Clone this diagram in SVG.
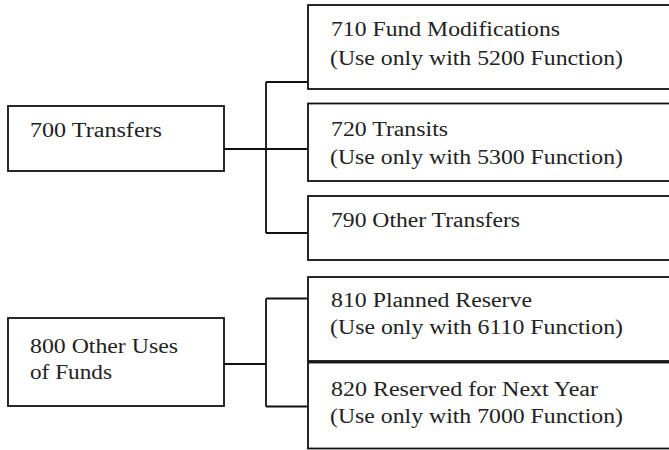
<svg xmlns="http://www.w3.org/2000/svg" width="669" height="450" viewBox="0 0 669 450">
<style>
.box{fill:#fff;stroke:#111;stroke-width:1.8}
.c{fill:none;stroke:#111;stroke-width:1.8}
text{font-family:"Liberation Serif",Tinos,"Noto Serif","DejaVu Serif",FreeSerif,Times,"Times New Roman",serif;font-size:20px;fill:#222}
</style>
<rect width="669" height="450" fill="#fff"/>
<g id="connectors">
<path class="c" d="M224,149 H308 M266,82 V233 M266,82 H308 M266,233 H308"/>
<path class="c" d="M224,364 H266 M266,298.5 V406.5 M266,298.5 H308 M266,406.5 H308"/>
</g>
<g id="n700">
<rect class="box" x="8" y="106" width="216" height="65"/>
<text x="30" y="137" textLength="132" lengthAdjust="spacingAndGlyphs">700 Transfers</text>
</g>
<g id="n710">
<rect class="box" x="308" y="5" width="400" height="84"/>
<text x="331" y="36" textLength="229" lengthAdjust="spacingAndGlyphs">710 Fund Modifications</text>
<text x="330" y="65" textLength="293" lengthAdjust="spacingAndGlyphs">(Use only with 5200 Function)</text>
</g>
<g id="n720">
<rect class="box" x="308" y="103.5" width="400" height="77.5"/>
<text x="331" y="136" textLength="117" lengthAdjust="spacingAndGlyphs">720 Transits</text>
<text x="330" y="164" textLength="293" lengthAdjust="spacingAndGlyphs">(Use only with 5300 Function)</text>
</g>
<g id="n790">
<rect class="box" x="308" y="196" width="400" height="64"/>
<text x="331" y="226.5" textLength="189" lengthAdjust="spacingAndGlyphs">790 Other Transfers</text>
</g>
<g id="n800">
<rect class="box" x="8" y="318" width="216" height="88"/>
<text x="30" y="353" textLength="148" lengthAdjust="spacingAndGlyphs">800 Other Uses</text>
<text x="30" y="379" textLength="82" lengthAdjust="spacingAndGlyphs">of Funds</text>
</g>
<g id="n810">
<rect class="box" x="308" y="277" width="400" height="84"/>
<text x="331" y="307" textLength="201" lengthAdjust="spacingAndGlyphs">810 Planned Reserve</text>
<text x="330" y="333.5" textLength="293" lengthAdjust="spacingAndGlyphs">(Use only with 6110 Function)</text>
</g>
<g id="n820">
<rect class="box" x="308" y="362.5" width="400" height="86"/>
<text x="331" y="395.5" textLength="267" lengthAdjust="spacingAndGlyphs">820 Reserved for Next Year</text>
<text x="330" y="423" textLength="293" lengthAdjust="spacingAndGlyphs">(Use only with 7000 Function)</text>
</g>
</svg>
